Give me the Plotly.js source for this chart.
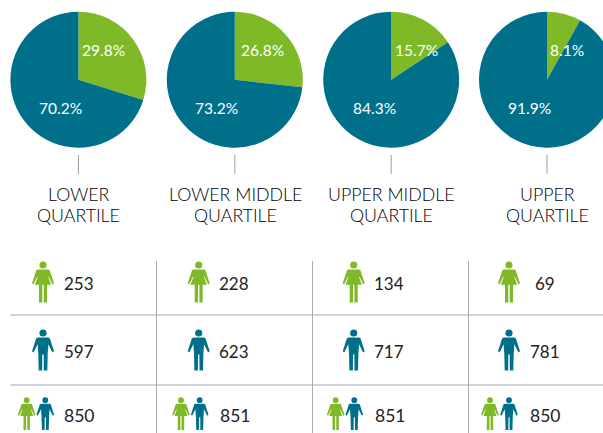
<!DOCTYPE html>
<html>
<head>
<meta charset="utf-8">
<script src="https://cdn.plot.ly/plotly-3.0.1.min.js"></script>
<style>
html,body{margin:0;padding:0;width:603px;height:433px;overflow:hidden;background:#fff}
#clip{width:603px;height:433px;overflow:hidden}
</style>
</head>
<body>
<div id="clip"><div id="chart" style="width:640px;height:433px"></div></div>
<script>
const categories = ['LOWER QUARTILE', 'LOWER MIDDLE QUARTILE', 'UPPER MIDDLE QUARTILE', 'UPPER QUARTILE'];
const womenPct = [29.8, 26.8, 15.7, 8.1];
const menPct = [70.2, 73.2, 84.3, 91.9];
const womenCount = [253, 228, 134, 69];
const menCount = [597, 623, 717, 781];
const totalCount = [850, 851, 851, 850];

const GREEN = '#80B928', TEAL = '#00708A', INK = '#000000', FONT = 'Lato, "Open Sans", sans-serif';
const W = 640, H = 433, R = 68;
const pieX = [78.4, 234.8, 391.2, 547], pieY = 79.7;
const px = x => x / W, py = y => 1 - y / H;

const WOMAN = [[-4.5,8],[4.5,8],[6.6,8.6],[11,21.8],[9.6,23],[5.8,15.4],[5.2,15.4],[8.2,23.4],[4,23.4],[4,41],[0.7,41],[0.7,23.4],[-0.7,23.4],[-0.7,41],[-4,41],[-4,23.4],[-8.2,23.4],[-5.2,15.4],[-5.8,15.4],[-9.6,23],[-11,21.8],[-6.6,8.6]];
const MAN = [[-5,8],[5,8],[6.8,8.8],[11,21.8],[9.4,23],[5.4,14.8],[4.7,24],[4.3,41],[0.8,41],[0.7,25],[-0.7,25],[-0.8,41],[-4.3,41],[-4.7,24],[-5.4,14.8],[-9.4,23],[-11,21.8],[-6.8,8.8]];

function icon(outline, cx, top, scale, color) {
  const d = outline.map((p, i) => (i ? 'L' : 'M') + px(cx + p[0] * scale) + ',' + py(top + p[1] * scale)).join(' ') + ' Z';
  const r = 3.6 * scale, hy = top + 3.6 * scale;
  return [
    {type:'path', xref:'paper', yref:'paper', path:d, fillcolor:color, line:{width:0}},
    {type:'circle', xref:'paper', yref:'paper', x0:px(cx-r), x1:px(cx+r), y0:py(hy+r), y1:py(hy-r), fillcolor:color, line:{width:0}}
  ];
}
function seg(x0, y0, x1, y1, color, width) {
  return {type:'line', xref:'paper', yref:'paper', x0:px(x0), x1:px(x1), y0:py(y0), y1:py(y1), line:{color:color, width:width}};
}
function label(text, x, y, size, color, weight) {
  return {text:String(text), xref:'paper', yref:'paper', x:px(x), y:py(y), xanchor:'center', yanchor:'middle', showarrow:false, font:{family:FONT, size:size, color:color, weight:weight}};
}

const traces = categories.map((c, i) => ({
  type:'pie', values:[womenPct[i], menPct[i]], labels:['Women','Men'],
  sort:false, direction:'clockwise', rotation:0, textinfo:'none', hoverinfo:'label+percent',
  marker:{colors:[GREEN, TEAL], line:{width:0}}, showlegend:false,
  domain:{x:[px(pieX[i]-R), px(pieX[i]+R)], y:[py(pieY+R), py(pieY-R)]}
}));

const shapes = [
  seg(10.5,315,603,315,'#BEC4C7',1.4), seg(10.5,385,603,385,'#BEC4C7',1.4)
];
[156.5,312.5,468.5].forEach(x => shapes.push(seg(x,261,x,433,'#A7AEB0',1)));
const iconX = [43, 198.7, 353.7, 509];
const pairW = [26.7, 181, 335.7, 490], pairM = [45.3, 199.7, 354.3, 509];
const numX1 = [79, 234, 389, 545], numX2 = [79, 234, 389, 545], numX3 = [79, 234.5, 389.5, 545];
const annotations = [];
const pctW = [103, 262, 416, 567], pctM = [60, 216, 374, 529];
categories.forEach((c, i) => {
  shapes.push(seg(pieX[i],155,pieX[i],174,'#9AA1A3',1));
  shapes.push(...icon(WOMAN, iconX[i], 261.4, 1, GREEN));
  shapes.push(...icon(MAN, iconX[i], 329.4, 1, TEAL));
  shapes.push(...icon(WOMAN, pairW[i], 397.3, 0.8, GREEN));
  shapes.push(...icon(MAN, pairM[i], 397.3, 0.8, TEAL));
  annotations.push(label(womenPct[i].toFixed(1)+'%', pctW[i], 49.5, 15.5, '#fff', 400));
  annotations.push(label(menPct[i].toFixed(1)+'%', pctM[i], 107.5, 15.5, '#fff', 400));
  const cut = c.lastIndexOf(' ');
  annotations.push(label(c.slice(0,cut), pieX[i]+0.5, 194, 17.8, INK, 300));
  annotations.push(label(c.slice(cut+1), pieX[i]+0.5, 215, 17.8, INK, 300));
  annotations.push(label(womenCount[i], numX1[i], 283.5, 17, '#222', 400));
  annotations.push(label(menCount[i], numX2[i], 351.5, 17, '#222', 400));
  annotations.push(label(totalCount[i], numX3[i], 415.5, 17.5, '#222', 400));
});

Plotly.newPlot('chart', traces, {
  width:W, height:H, margin:{l:0,r:0,t:0,b:0,pad:0},
  paper_bgcolor:'#fff', plot_bgcolor:'#fff', showlegend:false,
  shapes:shapes, annotations:annotations
}, {displayModeBar:false, responsive:false});
</script>
</body>
</html>
